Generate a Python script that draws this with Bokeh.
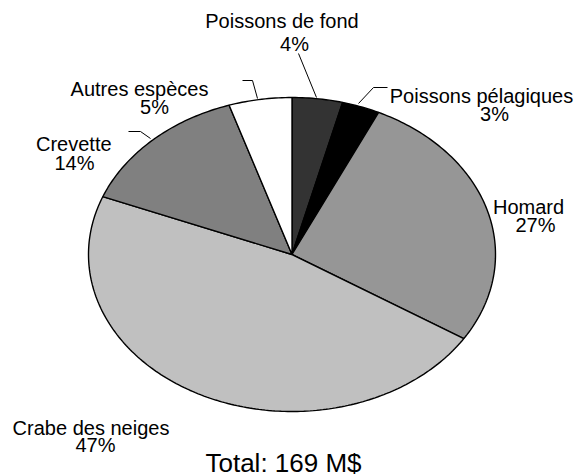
import numpy as np
from bokeh.plotting import figure
from bokeh.models import Range1d, ColumnDataSource
from bokeh.core.properties import value
from bokeh.embed import file_html
from bokeh.resources import INLINE

# ---- data ----
categories = ["Poissons de fond", "Poissons pélagiques", "Homard",
              "Crabe des neiges", "Crevette", "Autres espèces"]
values = [4, 3, 27, 47, 14, 5]
total_label = "Total: 169 M$"

# ---- styles / layout ----
colors = ["#333333", "#000000", "#969696", "#c0c0c0", "#808080", "#ffffff"]
cx, cy, rx, ry = 291.5, 254.0, 203.5, 157.0
YOFF = -8.0
name_x = [281.5, 481.0, 528.0, 90.5, 73.3, 139.0]
name_y = [28.3, 103.3, 214.0, 435.7, 151.7, 96.7]
pct_x = [294.0, 494.0, 535.0, 95.0, 74.0, 154.0]
pct_y = [51.7, 121.7, 232.7, 452.3, 170.0, 114.3]
leader_xs = [[298, 316], [358, 373, 387], [257, 252, 242], [150, 140, 128]]
leader_ys = [[53, 97], [103, 87, 87], [98, 80, 80], [138, 131, 131]]

FONT = "Liberation Sans"
W, H = 577, 476

p = figure(width=W, height=H, output_backend="svg", toolbar_location=None,
           x_range=Range1d(0, W), y_range=Range1d(H, 0),
           min_border=0, outline_line_color=None)
p.axis.visible = False
p.grid.visible = False
p.background_fill_color = "white"
p.border_fill_color = "white"

# slices (parametric angle, clockwise from top)
tot = float(sum(values))
xs, ys = [], []
start = 0.0
for v in values:
    end = start + v / tot * 2 * np.pi
    t = np.linspace(start, end, max(8, int(v * 4)))
    px = np.concatenate([[cx], cx + rx * np.sin(t)])
    py = np.concatenate([[cy], cy - ry * np.cos(t)])
    xs.append(px.tolist())
    ys.append(py.tolist())
    start = end

src = ColumnDataSource(dict(xs=xs, ys=ys, color=colors))
p.patches("xs", "ys", source=src, fill_color="color", line_color="black",
          line_width=1.4)

# leaders
p.multi_line(leader_xs, leader_ys, line_color="black", line_width=1)

# labels
pcts = [f"{v}%" for v in values]
p.text(x=name_x, y=[y + YOFF for y in name_y], text=categories,
       text_font=value(FONT), text_font_size="20px", text_align="center",
       text_baseline="alphabetic", text_color="black")
p.text(x=pct_x, y=[y + YOFF for y in pct_y], text=pcts,
       text_font=value(FONT), text_font_size="20px", text_align="center",
       text_baseline="alphabetic", text_color="black")
p.text(x=[283], y=[470 + YOFF], text=[total_label], text_font=value(FONT),
       text_font_size="26px", text_align="center", text_baseline="alphabetic",
       text_color="black")

open("out.html", "w").write(file_html(p, INLINE))
